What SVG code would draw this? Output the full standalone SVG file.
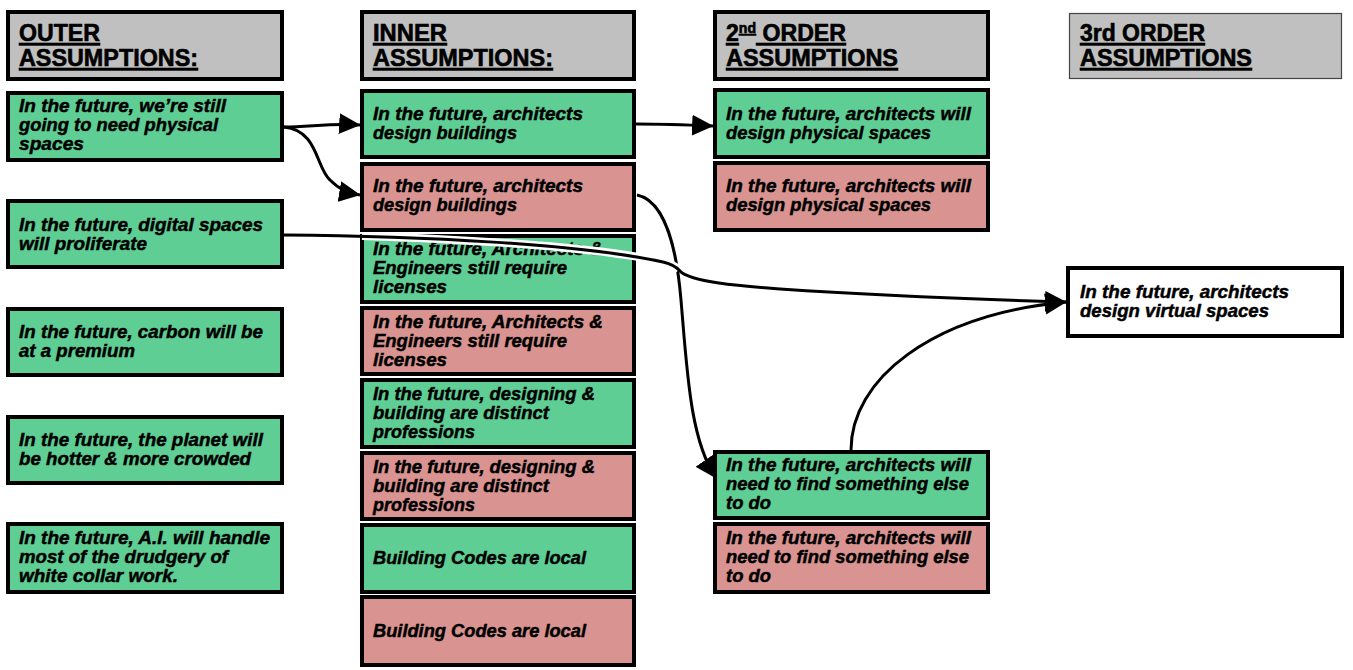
<svg xmlns="http://www.w3.org/2000/svg" width="1353" height="670" viewBox="0 0 1353 670">
<defs>
<style>
.hdr{fill:#c0c0c0;stroke:#000;stroke-width:4}
.g{fill:#5fce94;stroke:#000;stroke-width:4}
.r{fill:#d99391;stroke:#000;stroke-width:4}
.w{fill:#fff;stroke:#000;stroke-width:4}
.ht{font-family:"Liberation Sans",Arial,sans-serif;font-weight:bold;font-size:23px;fill:#000;stroke:#000;stroke-width:0.6;text-decoration:underline}
.t{font-family:"Liberation Sans",Arial,sans-serif;font-weight:bold;font-style:italic;font-size:17.5px;fill:#000;stroke:#000;stroke-width:0.45}
.c{fill:none;stroke:#000;stroke-width:3}
.halo{fill:none;stroke:#fff;stroke-width:8}
</style>
<marker id="ah" markerUnits="userSpaceOnUse" markerWidth="22" markerHeight="22" refX="19" refY="9.5" orient="auto" viewBox="0 0 20 19">
<path d="M0,0 L19.5,9.5 L0,19 Z" fill="#000"/>
</marker>
</defs>
<rect width="1353" height="670" fill="#fff"/>

<g id="hdr-outer">
<rect class="hdr" x="8" y="12" width="274" height="67"/>
<text class="ht" x="19" y="41" textLength="81" lengthAdjust="spacingAndGlyphs">OUTER</text>
<text class="ht" x="19" y="66" textLength="179" lengthAdjust="spacingAndGlyphs">ASSUMPTIONS:</text>
</g>
<g id="hdr-inner">
<rect class="hdr" x="362" y="12" width="272" height="67"/>
<text class="ht" x="373" y="41" textLength="74" lengthAdjust="spacingAndGlyphs">INNER</text>
<text class="ht" x="373" y="66" textLength="180" lengthAdjust="spacingAndGlyphs">ASSUMPTIONS:</text>
</g>
<g id="hdr-2nd">
<rect class="hdr" x="715" y="12" width="273" height="67"/>
<text class="ht" x="726" y="41" textLength="120" lengthAdjust="spacingAndGlyphs">2<tspan font-size="14" dy="-8">nd</tspan><tspan dy="8"> ORDER</tspan></text>
<text class="ht" x="726" y="66" textLength="172" lengthAdjust="spacingAndGlyphs">ASSUMPTIONS</text>
</g>
<g id="hdr-3rd">
<rect x="1069.5" y="13.5" width="272" height="65" fill="#c0c0c0" stroke="#444" stroke-width="1.2"/>
<text class="ht" x="1080" y="41" textLength="125" lengthAdjust="spacingAndGlyphs">3rd ORDER</text>
<text class="ht" x="1080" y="66" textLength="172" lengthAdjust="spacingAndGlyphs">ASSUMPTIONS</text>
</g>

<g id="outer-1">
<rect class="g" x="8" y="93" width="274" height="67"/>
<text class="t" x="19" y="112" textLength="207" lengthAdjust="spacingAndGlyphs">In the future, we’re still</text>
<text class="t" x="19" y="131" textLength="199" lengthAdjust="spacingAndGlyphs">going to need physical</text>
<text class="t" x="19" y="150" textLength="65" lengthAdjust="spacingAndGlyphs">spaces</text>
</g>
<g id="outer-2">
<rect class="g" x="8" y="201" width="274" height="66"/>
<text class="t" x="19" y="231" textLength="244" lengthAdjust="spacingAndGlyphs">In the future, digital spaces</text>
<text class="t" x="19" y="250" textLength="128" lengthAdjust="spacingAndGlyphs">will proliferate</text>
</g>
<g id="outer-3">
<rect class="g" x="8" y="309" width="274" height="66"/>
<text class="t" x="19" y="338" textLength="244" lengthAdjust="spacingAndGlyphs">In the future, carbon will be</text>
<text class="t" x="19" y="357" textLength="116" lengthAdjust="spacingAndGlyphs">at a premium</text>
</g>
<g id="outer-4">
<rect class="g" x="8" y="417" width="274" height="66"/>
<text class="t" x="19" y="446" textLength="244" lengthAdjust="spacingAndGlyphs">In the future, the planet will</text>
<text class="t" x="19" y="465" textLength="232" lengthAdjust="spacingAndGlyphs">be hotter &amp; more crowded</text>
</g>
<g id="outer-5">
<rect class="g" x="8" y="524" width="274" height="68"/>
<text class="t" x="19" y="544" textLength="251" lengthAdjust="spacingAndGlyphs">In the future, A.I. will handle</text>
<text class="t" x="19" y="563" textLength="209" lengthAdjust="spacingAndGlyphs">most of the drudgery of</text>
<text class="t" x="19" y="582" textLength="159" lengthAdjust="spacingAndGlyphs">white collar work.</text>
</g>

<g id="inner-1">
<rect class="g" x="362" y="91" width="272" height="66"/>
<text class="t" x="373" y="120" textLength="210" lengthAdjust="spacingAndGlyphs">In the future, architects</text>
<text class="t" x="373" y="139" textLength="144" lengthAdjust="spacingAndGlyphs">design buildings</text>
</g>
<g id="inner-2">
<rect class="r" x="362" y="164" width="272" height="66"/>
<text class="t" x="373" y="192" textLength="210" lengthAdjust="spacingAndGlyphs">In the future, architects</text>
<text class="t" x="373" y="211" textLength="144" lengthAdjust="spacingAndGlyphs">design buildings</text>
</g>
<g id="inner-3">
<rect class="g" x="362" y="236" width="272" height="66"/>
<text class="t" x="373" y="255" textLength="230" lengthAdjust="spacingAndGlyphs">In the future, Architects &amp;</text>
<text class="t" x="373" y="274" textLength="194" lengthAdjust="spacingAndGlyphs">Engineers still require</text>
<text class="t" x="373" y="293" textLength="74" lengthAdjust="spacingAndGlyphs">licenses</text>
</g>
<g id="inner-4">
<rect class="r" x="362" y="308" width="272" height="66"/>
<text class="t" x="373" y="328" textLength="230" lengthAdjust="spacingAndGlyphs">In the future, Architects &amp;</text>
<text class="t" x="373" y="347" textLength="194" lengthAdjust="spacingAndGlyphs">Engineers still require</text>
<text class="t" x="373" y="366" textLength="74" lengthAdjust="spacingAndGlyphs">licenses</text>
</g>
<g id="inner-5">
<rect class="g" x="362" y="380" width="272" height="67"/>
<text class="t" x="373" y="400" textLength="222" lengthAdjust="spacingAndGlyphs">In the future, designing &amp;</text>
<text class="t" x="373" y="419" textLength="176" lengthAdjust="spacingAndGlyphs">building are distinct</text>
<text class="t" x="373" y="438" textLength="102" lengthAdjust="spacingAndGlyphs">professions</text>
</g>
<g id="inner-6">
<rect class="r" x="362" y="453" width="272" height="66"/>
<text class="t" x="373" y="473" textLength="222" lengthAdjust="spacingAndGlyphs">In the future, designing &amp;</text>
<text class="t" x="373" y="492" textLength="176" lengthAdjust="spacingAndGlyphs">building are distinct</text>
<text class="t" x="373" y="511" textLength="102" lengthAdjust="spacingAndGlyphs">professions</text>
</g>
<g id="inner-7">
<rect class="g" x="362" y="525" width="272" height="67"/>
<text class="t" x="373" y="564" textLength="213" lengthAdjust="spacingAndGlyphs">Building Codes are local</text>
</g>
<g id="inner-8">
<rect class="r" x="362" y="597" width="272" height="68"/>
<text class="t" x="373" y="637" textLength="213" lengthAdjust="spacingAndGlyphs">Building Codes are local</text>
</g>

<g id="second-1">
<rect class="g" x="715" y="90" width="273" height="67"/>
<text class="t" x="726" y="120" textLength="245" lengthAdjust="spacingAndGlyphs">In the future, architects will</text>
<text class="t" x="726" y="139" textLength="205" lengthAdjust="spacingAndGlyphs">design physical spaces</text>
</g>
<g id="second-2">
<rect class="r" x="715" y="163" width="273" height="67"/>
<text class="t" x="726" y="192" textLength="245" lengthAdjust="spacingAndGlyphs">In the future, architects will</text>
<text class="t" x="726" y="211" textLength="205" lengthAdjust="spacingAndGlyphs">design physical spaces</text>
</g>
<g id="second-3">
<rect class="g" x="715" y="452" width="273" height="66"/>
<text class="t" x="726" y="471" textLength="245" lengthAdjust="spacingAndGlyphs">In the future, architects will</text>
<text class="t" x="726" y="490" textLength="243" lengthAdjust="spacingAndGlyphs">need to find something else</text>
<text class="t" x="726" y="509" textLength="45" lengthAdjust="spacingAndGlyphs">to do</text>
</g>
<g id="second-4">
<rect class="r" x="715" y="524" width="273" height="68"/>
<text class="t" x="726" y="544" textLength="245" lengthAdjust="spacingAndGlyphs">In the future, architects will</text>
<text class="t" x="726" y="563" textLength="243" lengthAdjust="spacingAndGlyphs">need to find something else</text>
<text class="t" x="726" y="582" textLength="45" lengthAdjust="spacingAndGlyphs">to do</text>
</g>

<g id="third-1">
<rect class="w" x="1068" y="268" width="274" height="68"/>
<text class="t" x="1080" y="298" textLength="209" lengthAdjust="spacingAndGlyphs">In the future, architects</text>
<text class="t" x="1080" y="317" textLength="189" lengthAdjust="spacingAndGlyphs">design virtual spaces</text>
</g>

<g id="connectors">
<path class="c" d="M284,127 C310,127 330,123 360,125" marker-end="url(#ah)"/>
<path class="c" d="M284,127 C318,130 316,168 330,180 C340,190 348,193 360,195" marker-end="url(#ah)"/>
<path class="c" d="M636,124 C660,124 690,125 713,126" marker-end="url(#ah)"/>
<path class="c" d="M637,195 C662,200 676,240 681,300 C687,370 690,440 716,478" marker-end="url(#ah)"/>
<path class="c" d="M851,450 C851,380 930,315 1066,302" marker-end="url(#ah)"/>
<path class="halo" d="M362,236 C480,240 600,247 663,262 Q675,265 679,270"/>
<path class="c" d="M284,235 C420,236 580,244 663,262 Q675,265 680,271 C690,282 740,286 780,289 C900,297 1000,300 1066,302" marker-end="url(#ah)"/>
</g>
</svg>
